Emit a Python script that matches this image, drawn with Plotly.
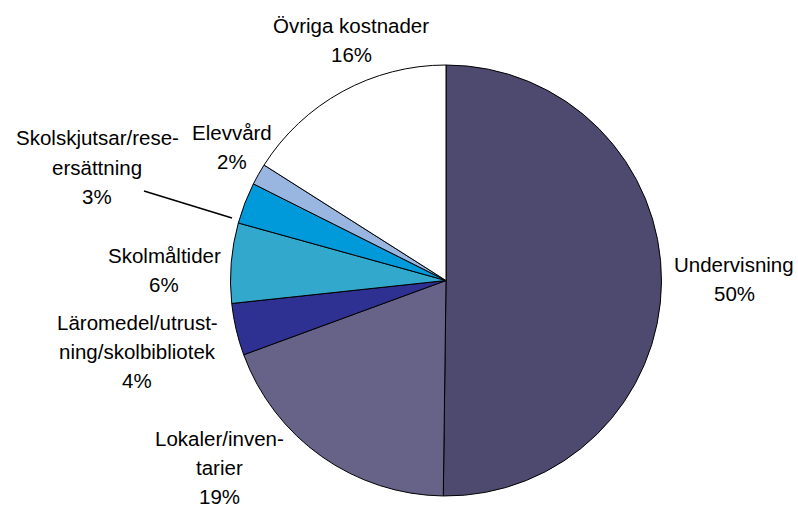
import plotly.graph_objects as go

categories = ["Undervisning", "Lokaler/inventarier", "Läromedel/utrustning/skolbibliotek",
              "Skolmåltider", "Skolskjutsar/reseersättning", "Elevvård", "Övriga kostnader"]
values = [50.2, 19.2, 3.9, 6.0, 3.1, 1.6, 16.0]
pct_labels = ["50%", "19%", "4%", "6%", "3%", "2%", "16%"]
label_lines = [
    ["Undervisning"],
    ["Lokaler/inven-", "tarier"],
    ["Läromedel/utrust-", "ning/skolbibliotek"],
    ["Skolmåltider"],
    ["Skolskjutsar/rese-", "ersättning"],
    ["Elevvård"],
    ["Övriga kostnader"],
]
colors = ["#4E4A6F", "#676388", "#2E3192", "#33A8CD", "#0099DA", "#99B6E0", "#FFFFFF"]

W, H = 798, 508
# label block centers in pixels (x, y)
label_pos = [(734, 279), (219, 467), (137, 351), (164, 270), (97, 167), (232, 147), (351, 40)]
LINE_H = 29

fig = go.Figure(go.Pie(
    labels=categories, values=values, sort=False, direction="clockwise", rotation=0,
    marker=dict(colors=colors, line=dict(color="black", width=1)),
    textinfo="none", hoverinfo="label+percent",
    domain=dict(x=[(446 - 215.5) / W, (446 + 215.5) / W], y=[12 / H, 443 / H]),
    showlegend=False,
))

annotations = []
for lines, pct, (cx, cy) in zip(label_lines, pct_labels, label_pos):
    all_lines = lines + [pct]
    n = len(all_lines)
    for i, t in enumerate(all_lines):
        y = cy + (i - (n - 1) / 2) * LINE_H
        annotations.append(dict(
            x=cx / W, y=1 - y / H, xref="paper", yref="paper", text=t, showarrow=False,
            xanchor="center", yanchor="middle",
            font=dict(family="Liberation Sans, Arial, sans-serif", size=20.5, color="black"),
        ))

fig.update_layout(
    width=W, height=H, margin=dict(l=0, r=0, t=0, b=0),
    paper_bgcolor="white", plot_bgcolor="white",
    annotations=annotations,
    shapes=[dict(type="line", xref="paper", yref="paper",
                 x0=144 / W, y0=1 - 191 / H, x1=232 / W, y1=1 - 218 / H,
                 line=dict(color="black", width=1.5))],
)

fig.write_html("out.html", config={"displayModeBar": False})

# remove default page margin so the figure sits at the window's top-left corner
with open("out.html", "r", encoding="utf-8") as f:
    html = f.read()
html = html.replace("<head>", "<head><style>html,body{margin:0;padding:0;overflow:hidden;}</style>", 1)
with open("out.html", "w", encoding="utf-8") as f:
    f.write(html)
